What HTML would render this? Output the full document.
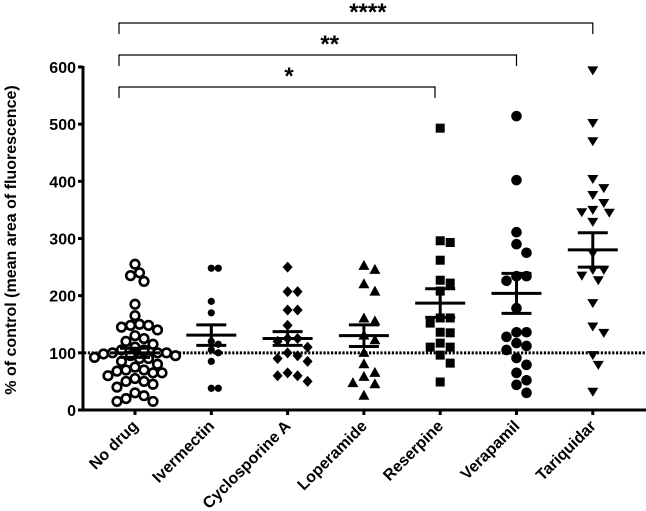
<!DOCTYPE html>
<html><head><meta charset="utf-8"><style>
html,body{margin:0;padding:0;background:#fff}
svg{display:block;font-family:"Liberation Sans",Arial,sans-serif}
</style></head><body>
<svg id="chart" width="646" height="511" viewBox="0 0 646 511"></svg>
<script>
const categories = ["No drug","Ivermectin","Cyclosporine A","Loperamide","Reserpine","Verapamil","Tariquidar"];
const noDrug = [255,240,235,225,185,165,150,148,148,145,140,130,125,120,115,110,105,105,100,100,100,98,95,95,92,90,90,85,80,75,70,70,68,65,65,60,55,50,50,45,40,30,25,20,15,15];
const ivermectin = [248,248,190,170,120,115,105,100,85,38,38];
const cyclosporine = [250,207,207,175,175,148,125,125,120,110,100,95,90,85,65,60,60,50];
const loperamide = [252,245,220,207,160,155,130,122,100,80,65,58,47,45,25];
const reserpine = [493,296,293,262,227,222,208,161,161,152,136,135,117,110,110,96,82,49];
const verapamil = [514,402,311,290,275,234,234,226,178,136,136,128,117,112,105,91,79,65,52,44,30];
const tariquidar = [594,502,470,404,388,376,362,350,346,345,329,274,245,245,235,227,187,146,135,96,79,32];
const means = [100,131,125,130,187,204,280];
const sems = [8,18,12,19,25,35,30];
const yTicks = [0,100,200,300,400,500,600];
const series = [noDrug,ivermectin,cyclosporine,loperamide,reserpine,verapamil,tariquidar];
const markers = ["ring","dot","diamond","triangle","square","circle","down"];
const brackets = [{to:4,label:"*",level:2},{to:5,label:"**",level:1},{to:6,label:"****",level:0}];

const svg = document.getElementById('chart');
const NS = "http://www.w3.org/2000/svg";
const X0 = 135, DX = 76.3, Y0 = 410, PX = 0.5717;
const xPos = i => X0 + i*DX;
const yPos = v => Y0 - v*PX;
function mk(tag, attrs, parent){const e=document.createElementNS(NS,tag);for(const k in attrs)e.setAttribute(k,attrs[k]);(parent||svg).appendChild(e);return e;}

// y-axis
const yAxis = mk('g',{});


mk('line',{x1:83,y1:yPos(600)-1,x2:83,y2:Y0+1.5,stroke:'#000','stroke-width':3},yAxis);
yTicks.forEach(t=>{
  mk('line',{x1:78,y1:yPos(t),x2:83,y2:yPos(t),stroke:'#000','stroke-width':3},yAxis);
  const tx = mk('text',{x:76,y:yPos(t)+6,'text-anchor':'end','font-size':16,'font-weight':'bold'},yAxis);
  tx.textContent = t;
  
  
});
const yt = mk('text',{x:0,y:0,transform:'translate(16,240) rotate(-90)','text-anchor':'middle','font-size':16,'font-weight':'bold'});
yt.textContent = "% of control (mean area of fluorescence)";



// x-axis
const xAxis = mk('g',{});


mk('line',{x1:82,y1:Y0,x2:646,y2:Y0,stroke:'#000','stroke-width':3},xAxis);
categories.forEach((c,i)=>{
  mk('line',{x1:xPos(i),y1:Y0,x2:xPos(i),y2:Y0+5,stroke:'#000','stroke-width':3},xAxis);
  const tx = mk('text',{x:0,y:0,transform:`translate(${xPos(i)+4},${Y0+17}) rotate(-45)`,'text-anchor':'end','font-size':16,'font-weight':'bold'},xAxis);
  tx.textContent = c;
  
  
});

// reference line at 100
const ref = mk('line',{x1:84,y1:yPos(100),x2:646,y2:yPos(100),stroke:'#000','stroke-width':3,'stroke-dasharray':'2.2 1.6'});



// points
const sizes = {ring:9,dot:7,diamond:10,triangle:11,square:10,circle:10,down:11};
function drawMarker(type,x,y,g){
  let e;
  if(type==='ring') e=mk('circle',{cx:x,cy:y,r:4.3,fill:'#fff',stroke:'#000','stroke-width':2.6},g);
  else if(type==='dot') e=mk('circle',{cx:x,cy:y,r:3.6,fill:'#000'},g);
  else if(type==='circle') e=mk('circle',{cx:x,cy:y,r:5.3,fill:'#000'},g);
  else if(type==='diamond') e=mk('polygon',{points:`${x},${y-5.5} ${x+5},${y} ${x},${y+5.5} ${x-5},${y}`,fill:'#000'},g);
  else if(type==='triangle') e=mk('polygon',{points:`${x},${y-6} ${x+5.5},${y+4} ${x-5.5},${y+4}`,fill:'#000'},g);
  else if(type==='down') e=mk('polygon',{points:`${x-5.5},${y-4} ${x+5.5},${y-4} ${x},${y+5}`,fill:'#000'},g);
  else e=mk('rect',{x:x-4.5,y:y-4.5,width:9,height:9,fill:'#000'},g);
  return e;
}
series.forEach((vals,i)=>{
  const g = mk('g',{});
  
  
  const d = sizes[markers[i]];
  const placed = [];
  [...vals].sort((a,b)=>b-a).forEach(v=>{
    const y = yPos(v);
    let off=0;
    for(let k=0;k<40;k++){
      const o = k===0?0:(k%2?1:-1)*Math.ceil(k/2)*d*0.5;
      if(placed.every(p=>Math.hypot(p[0]-o,p[1]-y)>=d)){off=o;break;}
    }
    placed.push([off,y]);
    const m = drawMarker(markers[i],xPos(i)+off,y,g);
    
    
  });
  const ms = mk('g',{},g);
  
  
  const cx=xPos(i);
  mk('line',{x1:cx-25,y1:yPos(means[i]),x2:cx+25,y2:yPos(means[i]),stroke:'#000','stroke-width':3},ms);
  mk('line',{x1:cx,y1:yPos(means[i]+sems[i]),x2:cx,y2:yPos(means[i]-sems[i]),stroke:'#000','stroke-width':3},ms);
  mk('line',{x1:cx-15,y1:yPos(means[i]+sems[i]),x2:cx+15,y2:yPos(means[i]+sems[i]),stroke:'#000','stroke-width':3},ms);
  mk('line',{x1:cx-15,y1:yPos(means[i]-sems[i]),x2:cx+15,y2:yPos(means[i]-sems[i]),stroke:'#000','stroke-width':3},ms);
});

// significance brackets
const levelY = [23,55,87];
brackets.forEach(b=>{
  const g = mk('g',{});
  
  
  const y = levelY[b.level];
  const x1 = 119, x2 = b.to===4 ? 435 : xPos(b.to);
  mk('path',{d:`M${x1},${y+11} V${y} H${x2} V${y+11}`,fill:'none',stroke:'#000','stroke-width':1.2},g);
  const t = mk('text',{x:(x1+x2)/2+12,y:y-3,'text-anchor':'middle','font-size':24,'font-weight':'bold'},g);
  t.textContent = b.label;
  
  
});
</script>
</body></html>
